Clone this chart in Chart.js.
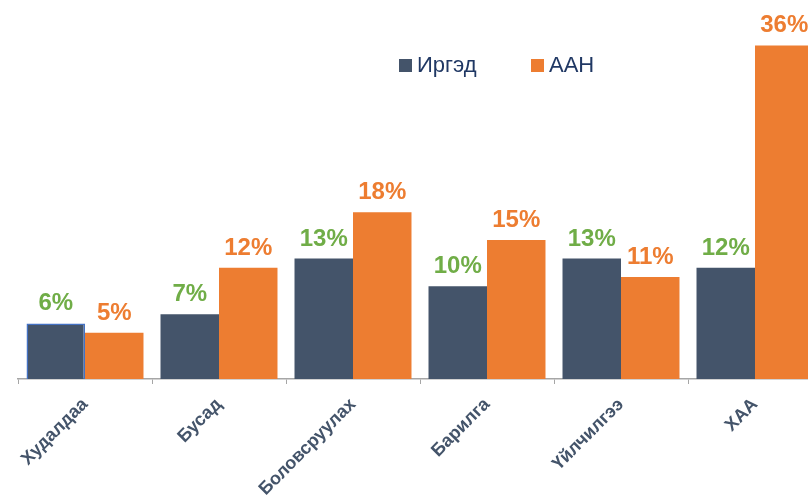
<!DOCTYPE html>
<html>
<head>
<meta charset="utf-8">
<script src="https://cdn.jsdelivr.net/npm/chart.js@4/dist/chart.umd.min.js"></script>
<style>
  html, body { margin: 0; padding: 0; background: #fff; overflow: hidden; }
  #wrap { position: relative; width: 830px; height: 497px; }
</style>
</head>
<body>
<div id="wrap"><canvas id="c" width="830" height="497"></canvas></div>
<script>
// Sectors and shares (%) for individuals (Иргэд) and companies (ААН)
const categories = ['Худалдаа', 'Бусад', 'Боловсруулах', 'Барилга', 'Үйлчилгээ', 'ХАА'];
const seriesNames = ['Иргэд', 'ААН'];
const irgedValues = [6, 7, 13, 10, 13, 12];
const aanValues = [5, 12, 18, 15, 11, 36];

const DARK = '#44546A';
const ORANGE = '#ED7D31';
const GREEN = '#70AD47';

// Percent labels above each bar, coloured per series
const valueLabels = {
  id: 'valueLabels',
  afterDatasetsDraw(chart) {
    const ctx = chart.ctx;
    const colors = [GREEN, ORANGE];
    ctx.save();
    ctx.font = 'bold 24px "Liberation Sans", Arial, sans-serif';
    ctx.textAlign = 'center';
    ctx.textBaseline = 'alphabetic';
    chart.data.datasets.forEach((ds, di) => {
      const meta = chart.getDatasetMeta(di);
      meta.data.forEach((el, i) => {
        ctx.fillStyle = colors[di];
        ctx.fillText(ds.data[i] + '%', el.x, el.y - 13);
      });
    });
    ctx.restore();
  }
};

// Legend row drawn at the top centre
const topLegend = {
  id: 'topLegend',
  afterDraw(chart) {
    const ctx = chart.ctx;
    const items = [
      { text: seriesNames[0], color: DARK, x: 399 },
      { text: seriesNames[1], color: ORANGE, x: 531 }
    ];
    ctx.save();
    ctx.font = '22px "Liberation Sans", Arial, sans-serif';
    ctx.textBaseline = 'alphabetic';
    items.forEach(it => {
      ctx.fillStyle = it.color;
      ctx.fillRect(it.x, 59, 13, 13);
      ctx.fillStyle = '#203864';
      ctx.fillText(it.text, it.x + 18, 72);
    });
    ctx.restore();
  }
};

new Chart(document.getElementById('c'), {
  type: 'bar',
  data: {
    labels: categories,
    datasets: [
      {
        label: seriesNames[0],
        data: irgedValues,
        backgroundColor: DARK,
        borderColor: ['#4472C4', DARK, DARK, DARK, DARK, DARK],
        borderWidth: [1.5, 0, 0, 0, 0, 0],
        borderSkipped: 'bottom'
      },
      {
        label: seriesNames[1],
        data: aanValues,
        backgroundColor: ORANGE,
        borderWidth: 0
      }
    ]
  },
  options: {
    responsive: false,
    animation: false,
    events: [],
    layout: { padding: { left: 18, right: 8, top: 0, bottom: 0 } },
    plugins: {
      legend: { display: false },
      tooltip: { enabled: false }
    },
    datasets: {
      bar: { categoryPercentage: 0.873, barPercentage: 1.0 }
    },
    scales: {
      x: {
        afterFit(scale) { scale.height = 118; },
        grid: {
          display: true,
          offset: true,
          drawOnChartArea: false,
          drawTicks: true,
          tickLength: 5,
          color: '#A6A6A6',
          lineWidth: 1
        },
        border: { display: true, color: '#A6A6A6', width: 1.5 },
        ticks: {
          minRotation: 45,
          maxRotation: 45,
          padding: 10,
          color: DARK,
          font: { family: '"Liberation Sans", Arial, sans-serif', size: 18, weight: 'bold' }
        }
      },
      y: {
        display: false,
        min: 0,
        max: 40.9
      }
    }
  },
  plugins: [valueLabels, topLegend]
});
</script>
</body>
</html>
